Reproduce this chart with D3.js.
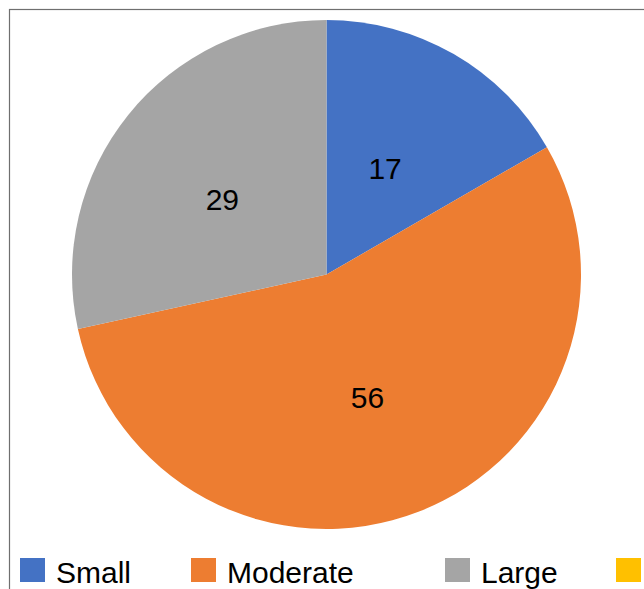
<!DOCTYPE html>
<html>
<head>
<meta charset="utf-8">
<script src="https://cdn.jsdelivr.net/npm/d3@7"></script>
<style>
  body { margin: 0; background: #fff; overflow: hidden; }
  text { font-family: "Liberation Sans", Arial, sans-serif; }
</style>
</head>
<body>
<div class="chart"></div>
<script>
// data
var categories = ["Small", "Moderate", "Large", "Very large"];
var values = [17, 56, 29, 0];
var colors = ["#4472C4", "#ED7D31", "#A5A5A5", "#FFC000"];

// window size
var svgWidth = 644;
var svgHeight = 589;

// pie geometry
var cx = 326.5;
var cy = 274.5;
var radius = 254.5;

var svg = d3.select(".chart")
  .append("svg")
  .attr("width", svgWidth)
  .attr("height", svgHeight);

svg.append("rect")
  .attr("width", svgWidth)
  .attr("height", svgHeight)
  .attr("fill", "#fff");

// chart frame, runs off the right and bottom edge
svg.append("rect")
  .attr("x", 9.5)
  .attr("y", 9.5)
  .attr("width", 800)
  .attr("height", 800)
  .attr("fill", "none")
  .attr("stroke", "#6f6f6f")
  .attr("stroke-width", 1.2);

var color = d3.scaleOrdinal()
  .domain(categories)
  .range(colors);

var pie = d3.pie()
  .sort(null)
  .value(function(d, i) { return values[i]; });

var arcs = pie(categories);

var arc = d3.arc()
  .innerRadius(0)
  .outerRadius(radius);

var labelArc = d3.arc()
  .innerRadius(radius * 0.5)
  .outerRadius(radius * 0.5);

var g = svg.append("g")
  .attr("transform", "translate(" + cx + "," + cy + ")");

g.selectAll("path")
  .data(arcs)
  .enter()
  .append("path")
  .attr("d", arc)
  .attr("fill", function(d) { return color(d.data); });

// value labels, nudged a little left/down like the original
g.selectAll("text.value")
  .data(arcs.filter(function(d) { return d.value > 0; }))
  .enter()
  .append("text")
  .attr("class", "value")
  .attr("transform", function(d) {
    var c = labelArc.centroid(d);
    return "translate(" + (c[0] - 5) + "," + (c[1] + 4) + ")";
  })
  .attr("text-anchor", "middle")
  .attr("dy", "0.36em")
  .attr("font-size", "30px")
  .attr("fill", "#000")
  .text(function(d) { return d.value; });

// legend along the bottom (last entry runs off the edge)
var legendX = [20, 191, 445, 616];

var legend = svg.selectAll("g.legend")
  .data(categories)
  .enter()
  .append("g")
  .attr("class", "legend")
  .attr("transform", function(d, i) { return "translate(" + legendX[i] + ",558)"; });

legend.append("rect")
  .attr("width", 25)
  .attr("height", 24)
  .attr("fill", function(d) { return color(d); });

legend.filter(function(d, i) { return legendX[i] + 36 < svgWidth; })
  .append("text")
  .attr("x", 36)
  .attr("y", 25)
  .attr("font-size", "30px")
  .attr("fill", "#000")
  .text(function(d) { return d; });
</script>
</body>
</html>
